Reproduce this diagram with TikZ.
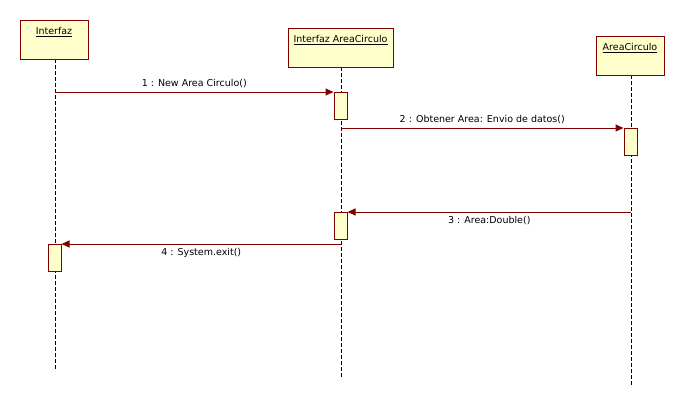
\documentclass[tikz,border=0pt]{standalone}
\usepackage{fontspec}
\setmainfont{DejaVu Sans}
\usepackage{tikz}
\usetikzlibrary{positioning, arrows.meta}

\definecolor{umlred}{RGB}{128,0,0}
\definecolor{umlfill}{RGB}{255,255,204}

\begin{document}
\begin{tikzpicture}[
      x=1pt, y=-1pt,
      >={Triangle[length=8pt,width=7pt]},
      obj/.style={draw=umlred,fill=umlfill,line width=1pt,anchor=north,
        minimum height=39pt,inner xsep=4pt,inner ysep=4pt,
        text height=10pt,text depth=21pt,font=\fontsize{9.5}{10}\selectfont},
      act/.style={draw=umlred,fill=umlfill,line width=1pt,anchor=north,
        minimum width=13pt,minimum height=27pt,inner sep=0pt},
      life/.style={draw=black,line width=1pt,dash pattern=on 4pt off 2pt},
      msg/.style={->,draw=umlred,fill=umlred,line width=1pt},
      lab/.style={font=\fontsize{9.5}{10}\selectfont,text=black}
    ]
    \useasboundingbox (0,0) rectangle (685,405);

    % lifelines
    \coordinate (l1e) at (55,369);
    \coordinate (l2e) at (341,377);
    \coordinate (l3e) at (631,385);
    \draw[life] (55,59) -- (l1e);
    \draw[life] (341,67) -- (l2e);
    \draw[life] (631,75) -- (l3e);

    % objects
    \node[obj,minimum width=68pt] (intf) at (54,20) {\underline{Interfaz}};
    \node[obj,minimum width=105pt] (intac) at (340.5,28) {\underline{Interfaz AreaCirculo}};
    \node[obj,minimum width=68pt] (area) at (630,36) {\underline{AreaCirculo}};

    % activations
    \node[act] (a1) at (340.5,92)  {};
    \node[act] (a2) at (630.5,128) {};
    \node[act] (a3) at (340.5,212) {};
    \node[act] (a4) at (54.5,244)  {};

    % message start points
    \coordinate (m1) at (55,92);
    \coordinate (m2) at (341,128);
    \coordinate (m3) at (631,212);
    \coordinate (m4) at (341,244);

    % messages
    \draw[msg] (m1) -- node[lab,above=0pt] {1 : New Area Circulo()} (a1.north west);
    \draw[msg] (m2) -- node[lab,above=0pt] {2 : Obtener Area: Envio de datos()} (a2.north west);
    \draw[msg] (m3) -- node[lab,below=0pt] {3 : Area:Double()} (a3.north east);
    \draw[msg] (m4) -- node[lab,below=0pt] {4 : System.exit()} (a4.north east);

    \end{tikzpicture}
\end{document}
